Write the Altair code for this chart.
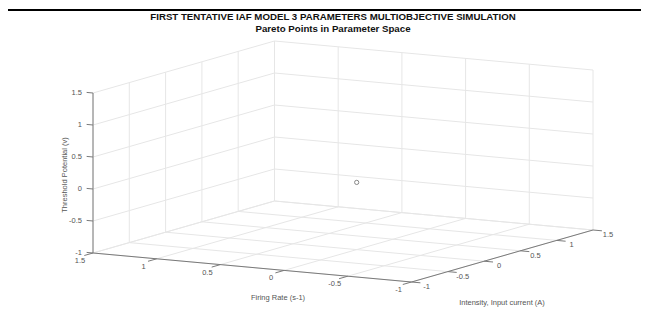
import altair as alt
import pandas as pd

# ---------------- data ----------------
title_lines = ["FIRST TENTATIVE IAF MODEL 3 PARAMETERS MULTIOBJECTIVE SIMULATION",
               "Pareto Points in Parameter Space"]
fr_ticks = [-1, -0.5, 0, 0.5, 1, 1.5]
fr_labels = ["-1", "-0.5", "0", "0.5", "1", "1.5"]
i_ticks = [-1, -0.5, 0, 0.5, 1, 1.5]
i_labels = ["-1", "-0.5", "0", "0.5", "1", "1.5"]
z_ticks = [-1, -0.5, 0, 0.5, 1, 1.5]
z_labels = ["-1", "-0.5", "0", "0.5", "1", "1.5"]
fr_title = "Firing Rate (s-1)"
i_title = "Intensity, Input current (A)"
z_title = "Threshold Potential (v)"
pareto_fr = [0.0]
pareto_i = [0.0]
pareto_z = [0.05]

LO, HI = -1, 1.5

# ---------------- projection (3-D view -> page pixels) ----------------
OX, OY = 93, 253          # page position of corner fr=HI, i=LO, z=LO
FRV = (-127.4, -11.6)     # pixels per unit of firing rate
IV = (72.6, -20.8)        # pixels per unit of intensity
ZV = (0.0, -64.0)         # pixels per unit of threshold


def ex(f, i, z, k):
    return (f"{(OX, OY)[k]} + ({f} - {HI}) * ({FRV[k]}) + ({i} - {LO}) * ({IV[k]})"
            f" + ({z} - {LO}) * ({ZV[k]})")


def seg_calc(chart):
    return chart.transform_calculate(
        sx=ex("datum.f1", "datum.i1", "datum.z1", 0),
        sy=ex("datum.f1", "datum.i1", "datum.z1", 1),
        ex_=ex("datum.f2", "datum.i2", "datum.z2", 0),
        ey=ex("datum.f2", "datum.i2", "datum.z2", 1),
    )


def pt_calc(chart):
    return chart.transform_calculate(
        sx=ex("datum.f", "datum.i", "datum.z", 0),
        sy=ex("datum.f", "datum.i", "datum.z", 1),
    )


# grid segments on the three back planes
grid = []
for f in fr_ticks:
    grid.append((f, LO, LO, f, HI, LO))      # floor
    grid.append((f, HI, LO, f, HI, HI))      # back wall i=HI
for v in i_ticks:
    grid.append((LO, v, LO, HI, v, LO))      # floor
    grid.append((HI, v, LO, HI, v, HI))      # back wall fr=HI
for z in z_ticks:
    grid.append((HI, LO, z, HI, HI, z))
    grid.append((LO, HI, z, HI, HI, z))
cols = ["f1", "i1", "z1", "f2", "i2", "z2"]
grid_df = pd.DataFrame(grid, columns=cols)

axes_df = pd.DataFrame([
    (HI, LO, LO, LO, LO, LO),   # firing-rate axis
    (LO, LO, LO, LO, HI, LO),   # intensity axis
    (HI, LO, LO, HI, LO, HI),   # threshold axis
], columns=cols)

ticks = []
for f in fr_ticks:
    ticks.append((f, LO, LO, f, LO - 0.12, LO))
for v in i_ticks:
    ticks.append((LO, v, LO, LO - 0.07, v, LO))
for z in z_ticks:
    ticks.append((HI, LO, z, HI + 0.05, LO, z))
ticks_df = pd.DataFrame(ticks, columns=cols)

fr_lab_df = pd.DataFrame({"f": fr_ticks, "i": LO, "z": LO, "t": fr_labels})
i_lab_df = pd.DataFrame({"f": LO, "i": i_ticks, "z": LO, "t": i_labels})
z_lab_df = pd.DataFrame({"f": HI, "i": LO, "z": z_ticks, "t": z_labels})
pts_df = pd.DataFrame({"f": pareto_fr, "i": pareto_i, "z": pareto_z})

XS = alt.Scale(domain=[8, 641], nice=False, zero=False)
YS = alt.Scale(domain=[8, 308], nice=False, zero=False, reverse=True)
X = alt.X("sx:Q", scale=XS, axis=None)
Y = alt.Y("sy:Q", scale=YS, axis=None)

FONT = "Liberation Sans"

grid_layer = seg_calc(alt.Chart(grid_df).mark_rule(color="#e6e6e6", strokeWidth=1)).encode(
    x=X, y=Y, x2="ex_:Q", y2="ey:Q")
axes_layer = seg_calc(alt.Chart(axes_df).mark_rule(color="#7a7a7a", strokeWidth=1)).encode(
    x=X, y=Y, x2="ex_:Q", y2="ey:Q")
ticks_layer = seg_calc(alt.Chart(ticks_df).mark_rule(color="#7a7a7a", strokeWidth=1)).encode(
    x=X, y=Y, x2="ex_:Q", y2="ey:Q")

lab_style = dict(font=FONT, fontSize=7.5, color="#555555", baseline="middle")
fr_lab = pt_calc(alt.Chart(fr_lab_df).mark_text(align="center", dx=-13, dy=8, **lab_style)).encode(
    x=X, y=Y, text="t:N")
i_lab = pt_calc(alt.Chart(i_lab_df).mark_text(align="center", dx=15, dy=5, **lab_style)).encode(
    x=X, y=Y, text="t:N")
z_lab = pt_calc(alt.Chart(z_lab_df).mark_text(align="right", dx=-11, dy=0, **lab_style)).encode(
    x=X, y=Y, text="t:N")

points = pt_calc(alt.Chart(pts_df).mark_point(shape="circle", filled=False, size=18,
                                              color="#555555", strokeWidth=1)).encode(x=X, y=Y)

title_df = pd.DataFrame({"t": title_lines, "row": [0, 1]})
titles = alt.Chart(title_df).mark_text(font=FONT, fontSize=9.7, fontWeight="bold",
                                       color="#111111", align="center", baseline="middle").encode(
    x=alt.value(333 - 8),
    y=alt.Y("row:Q", scale=alt.Scale(domain=[0, 1], range=[17 - 8, 28.5 - 8]), axis=None),
    text="t:N")

ax_style = dict(font=FONT, fontSize=7.5, color="#555555", align="center", baseline="middle")
fr_t = alt.Chart(pd.DataFrame({"t": [fr_title]})).mark_text(**ax_style).encode(
    x=alt.value(278 - 8), y=alt.value(298 - 8), text="t:N")
i_t = alt.Chart(pd.DataFrame({"t": [i_title]})).mark_text(**ax_style).encode(
    x=alt.value(502 - 8), y=alt.value(303 - 8), text="t:N")
z_t = alt.Chart(pd.DataFrame({"t": [z_title]})).mark_text(angle=270, **ax_style).encode(
    x=alt.value(65 - 8), y=alt.value(175 - 8), text="t:N")

# black line along the top of the picture, as in the reference
frame_top = alt.Chart(pd.DataFrame({"k": [0]})).mark_rect(color="#000000").encode(
    x=alt.value(0), x2=alt.value(633), y=alt.value(1), y2=alt.value(3))

chart = alt.layer(
    grid_layer, axes_layer, ticks_layer, fr_lab, i_lab, z_lab, points,
    titles, fr_t, i_t, z_t, frame_top
).resolve_scale(y="independent").properties(
    width=633, height=300, padding=0, autosize=alt.AutoSizeParams(type="none")
).configure_view(stroke=None)

chart.save("out.html", embed_options={"renderer": "svg", "actions": False})
